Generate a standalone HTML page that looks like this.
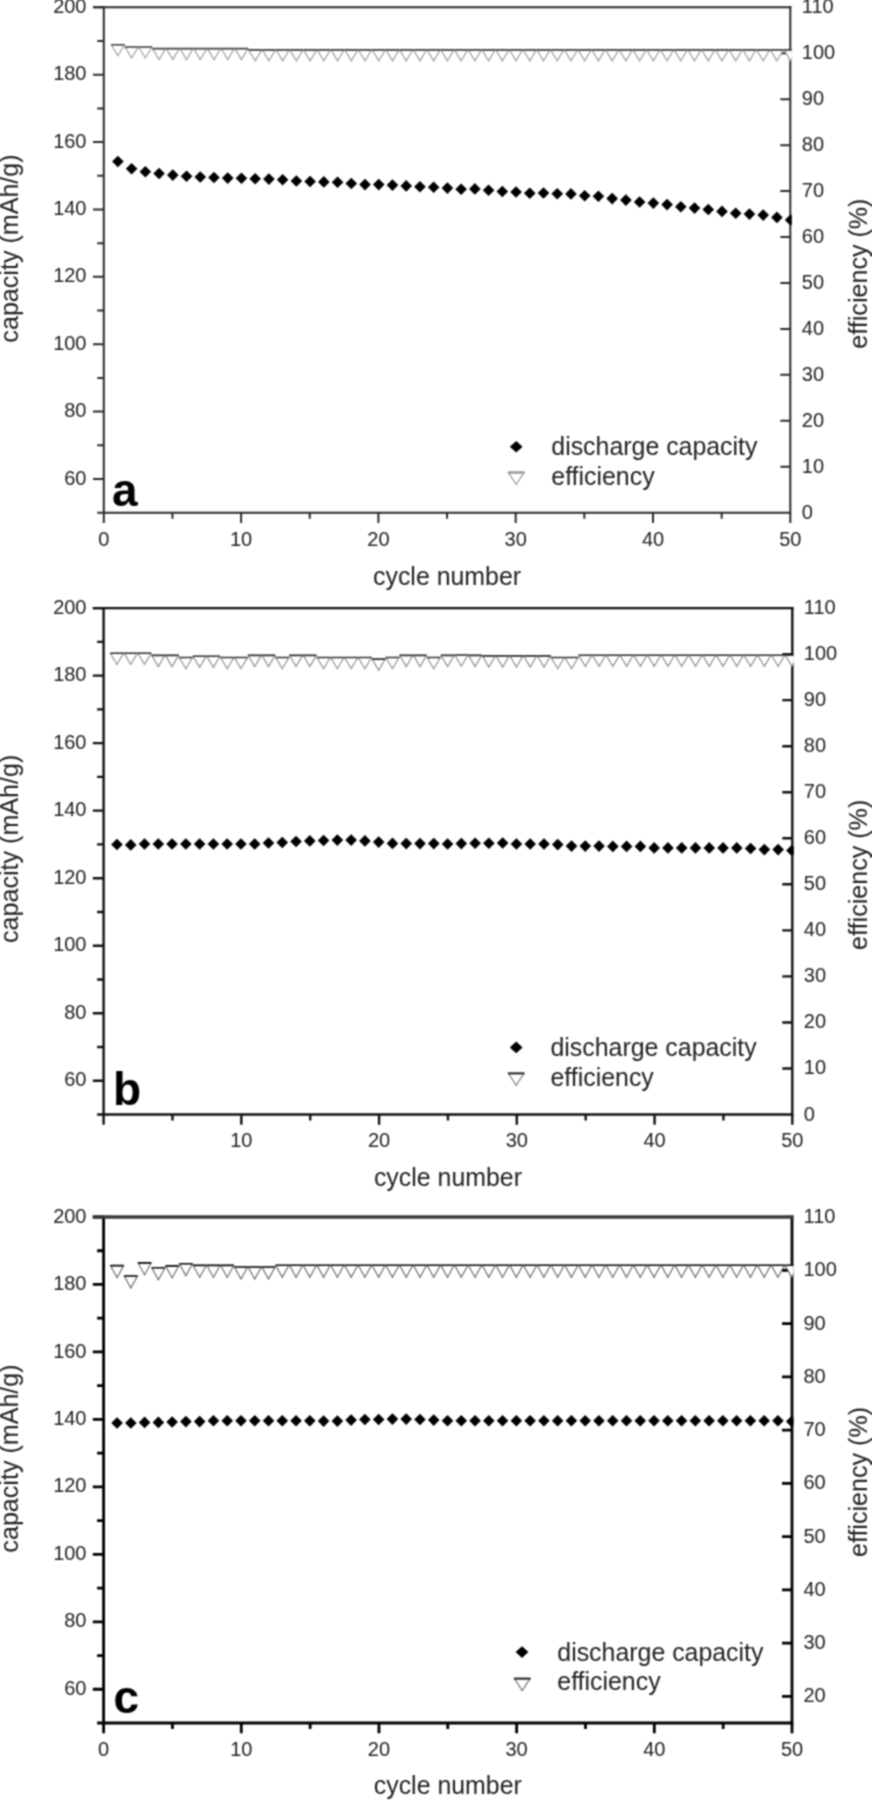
<!DOCTYPE html><html><head><meta charset="utf-8"><style>html,body{margin:0;padding:0;background:#fff;}svg{display:block;}</style></head><body>
<svg width="872" height="1800" viewBox="0 0 872 1800" font-family='"Liberation Sans", sans-serif'>
<rect width="872" height="1800" fill="#fff"/>
<defs><filter id="bl" x="0" y="0" width="1" height="1" color-interpolation-filters="sRGB"><feConvolveMatrix order="3" kernelMatrix="1 2 1 2 4 2 1 2 1" edgeMode="duplicate"/></filter>
<clipPath id="clipa"><rect x="103.8" y="7.3" width="688" height="505.4"/></clipPath>
<clipPath id="clipb"><rect x="103.6" y="608.1" width="690.2" height="506.4"/></clipPath>
<clipPath id="clipc"><rect x="103.6" y="1217" width="689.9" height="506"/></clipPath>
</defs>
<g filter="url(#bl)"><rect width="872" height="1800" fill="#fff"/>
<g><path d="M97.3 512.7H103.8M93 479.01H103.8M97.3 445.31H103.8M93 411.62H103.8M97.3 377.93H103.8M93 344.23H103.8M97.3 310.54H103.8M93 276.85H103.8M97.3 243.15H103.8M93 209.46H103.8M97.3 175.77H103.8M93 142.07H103.8M97.3 108.38H103.8M93 74.69H103.8M97.3 40.99H103.8M93 7.3H103.8M103.8 512.7V523M172.45 512.7V518.7M241.1 512.7V523M309.75 512.7V518.7M378.4 512.7V523M447.05 512.7V518.7M515.7 512.7V523M584.35 512.7V518.7M653 512.7V523M721.65 512.7V518.7M790.3 512.7V523M780.3 466.75H790.3M780.3 420.81H790.3M780.3 374.86H790.3M780.3 328.92H790.3M780.3 282.97H790.3M780.3 237.03H790.3M780.3 191.08H790.3M780.3 145.14H790.3M780.3 99.19H790.3M780.3 53.25H790.3" stroke="#2a2a2a" stroke-width="2" fill="none"/><path d="M103.8 6.3V512.7H790.3V6.3" stroke="#2a2a2a" stroke-width="2" fill="none" stroke-linejoin="miter"/><path d="M93 7.3H791.3" stroke="#2a2a2a" stroke-width="2" fill="none"/><g clip-path="url(#clipa)"><path d="M111.28 44.7L124.48 44.7L117.88 55.7Z" fill="#fff" stroke="#9a9a9a" stroke-width="1.1"/><path d="M125.01 47L138.21 47L131.61 58Z" fill="#fff" stroke="#9a9a9a" stroke-width="1.1"/><path d="M138.74 47L151.94 47L145.34 58Z" fill="#fff" stroke="#9a9a9a" stroke-width="1.1"/><path d="M152.47 48.6L165.67 48.6L159.07 59.6Z" fill="#fff" stroke="#9a9a9a" stroke-width="1.1"/><path d="M166.2 48.6L179.4 48.6L172.8 59.6Z" fill="#fff" stroke="#9a9a9a" stroke-width="1.1"/><path d="M179.93 48.6L193.13 48.6L186.53 59.6Z" fill="#fff" stroke="#9a9a9a" stroke-width="1.1"/><path d="M193.66 48.6L206.86 48.6L200.26 59.6Z" fill="#fff" stroke="#9a9a9a" stroke-width="1.1"/><path d="M207.39 48.6L220.59 48.6L213.99 59.6Z" fill="#fff" stroke="#9a9a9a" stroke-width="1.1"/><path d="M221.12 48.6L234.32 48.6L227.72 59.6Z" fill="#fff" stroke="#9a9a9a" stroke-width="1.1"/><path d="M234.85 48.6L248.05 48.6L241.45 59.6Z" fill="#fff" stroke="#9a9a9a" stroke-width="1.1"/><path d="M248.58 49.9L261.78 49.9L255.18 60.9Z" fill="#fff" stroke="#9a9a9a" stroke-width="1.1"/><path d="M262.31 49.9L275.51 49.9L268.91 60.9Z" fill="#fff" stroke="#9a9a9a" stroke-width="1.1"/><path d="M276.04 49.9L289.24 49.9L282.64 60.9Z" fill="#fff" stroke="#9a9a9a" stroke-width="1.1"/><path d="M289.77 49.9L302.97 49.9L296.37 60.9Z" fill="#fff" stroke="#9a9a9a" stroke-width="1.1"/><path d="M303.5 49.9L316.7 49.9L310.1 60.9Z" fill="#fff" stroke="#9a9a9a" stroke-width="1.1"/><path d="M317.23 49.9L330.43 49.9L323.83 60.9Z" fill="#fff" stroke="#9a9a9a" stroke-width="1.1"/><path d="M330.96 49.9L344.16 49.9L337.56 60.9Z" fill="#fff" stroke="#9a9a9a" stroke-width="1.1"/><path d="M344.69 49.9L357.89 49.9L351.29 60.9Z" fill="#fff" stroke="#9a9a9a" stroke-width="1.1"/><path d="M358.42 49.9L371.62 49.9L365.02 60.9Z" fill="#fff" stroke="#9a9a9a" stroke-width="1.1"/><path d="M372.15 49.9L385.35 49.9L378.75 60.9Z" fill="#fff" stroke="#9a9a9a" stroke-width="1.1"/><path d="M385.88 49.9L399.08 49.9L392.48 60.9Z" fill="#fff" stroke="#9a9a9a" stroke-width="1.1"/><path d="M399.61 49.9L412.81 49.9L406.21 60.9Z" fill="#fff" stroke="#9a9a9a" stroke-width="1.1"/><path d="M413.34 49.9L426.54 49.9L419.94 60.9Z" fill="#fff" stroke="#9a9a9a" stroke-width="1.1"/><path d="M427.07 49.9L440.27 49.9L433.67 60.9Z" fill="#fff" stroke="#9a9a9a" stroke-width="1.1"/><path d="M440.8 49.9L454 49.9L447.4 60.9Z" fill="#fff" stroke="#9a9a9a" stroke-width="1.1"/><path d="M454.53 49.9L467.73 49.9L461.13 60.9Z" fill="#fff" stroke="#9a9a9a" stroke-width="1.1"/><path d="M468.26 49.9L481.46 49.9L474.86 60.9Z" fill="#fff" stroke="#9a9a9a" stroke-width="1.1"/><path d="M481.99 49.9L495.19 49.9L488.59 60.9Z" fill="#fff" stroke="#9a9a9a" stroke-width="1.1"/><path d="M495.72 49.9L508.92 49.9L502.32 60.9Z" fill="#fff" stroke="#9a9a9a" stroke-width="1.1"/><path d="M509.45 49.9L522.65 49.9L516.05 60.9Z" fill="#fff" stroke="#9a9a9a" stroke-width="1.1"/><path d="M523.18 49.9L536.38 49.9L529.78 60.9Z" fill="#fff" stroke="#9a9a9a" stroke-width="1.1"/><path d="M536.91 49.9L550.11 49.9L543.51 60.9Z" fill="#fff" stroke="#9a9a9a" stroke-width="1.1"/><path d="M550.64 49.9L563.84 49.9L557.24 60.9Z" fill="#fff" stroke="#9a9a9a" stroke-width="1.1"/><path d="M564.37 49.9L577.57 49.9L570.97 60.9Z" fill="#fff" stroke="#9a9a9a" stroke-width="1.1"/><path d="M578.1 49.9L591.3 49.9L584.7 60.9Z" fill="#fff" stroke="#9a9a9a" stroke-width="1.1"/><path d="M591.83 49.9L605.03 49.9L598.43 60.9Z" fill="#fff" stroke="#9a9a9a" stroke-width="1.1"/><path d="M605.56 49.9L618.76 49.9L612.16 60.9Z" fill="#fff" stroke="#9a9a9a" stroke-width="1.1"/><path d="M619.29 49.9L632.49 49.9L625.89 60.9Z" fill="#fff" stroke="#9a9a9a" stroke-width="1.1"/><path d="M633.02 49.9L646.22 49.9L639.62 60.9Z" fill="#fff" stroke="#9a9a9a" stroke-width="1.1"/><path d="M646.75 49.9L659.95 49.9L653.35 60.9Z" fill="#fff" stroke="#9a9a9a" stroke-width="1.1"/><path d="M660.48 49.9L673.68 49.9L667.08 60.9Z" fill="#fff" stroke="#9a9a9a" stroke-width="1.1"/><path d="M674.21 49.9L687.41 49.9L680.81 60.9Z" fill="#fff" stroke="#9a9a9a" stroke-width="1.1"/><path d="M687.94 49.9L701.14 49.9L694.54 60.9Z" fill="#fff" stroke="#9a9a9a" stroke-width="1.1"/><path d="M701.67 49.9L714.87 49.9L708.27 60.9Z" fill="#fff" stroke="#9a9a9a" stroke-width="1.1"/><path d="M715.4 49.9L728.6 49.9L722 60.9Z" fill="#fff" stroke="#9a9a9a" stroke-width="1.1"/><path d="M729.13 49.9L742.33 49.9L735.73 60.9Z" fill="#fff" stroke="#9a9a9a" stroke-width="1.1"/><path d="M742.86 49.9L756.06 49.9L749.46 60.9Z" fill="#fff" stroke="#9a9a9a" stroke-width="1.1"/><path d="M756.59 49.9L769.79 49.9L763.19 60.9Z" fill="#fff" stroke="#9a9a9a" stroke-width="1.1"/><path d="M770.32 49.9L783.52 49.9L776.92 60.9Z" fill="#fff" stroke="#9a9a9a" stroke-width="1.1"/><path d="M784.05 49.9L797.25 49.9L790.65 60.9Z" fill="#fff" stroke="#9a9a9a" stroke-width="1.1"/><path d="M111.28 44.7H124.48M125.01 47H138.21M138.74 47H151.94M152.47 48.6H165.67M166.2 48.6H179.4M179.93 48.6H193.13M193.66 48.6H206.86M207.39 48.6H220.59M221.12 48.6H234.32M234.85 48.6H248.05M248.58 49.9H261.78M262.31 49.9H275.51M276.04 49.9H289.24M289.77 49.9H302.97M303.5 49.9H316.7M317.23 49.9H330.43M330.96 49.9H344.16M344.69 49.9H357.89M358.42 49.9H371.62M372.15 49.9H385.35M385.88 49.9H399.08M399.61 49.9H412.81M413.34 49.9H426.54M427.07 49.9H440.27M440.8 49.9H454M454.53 49.9H467.73M468.26 49.9H481.46M481.99 49.9H495.19M495.72 49.9H508.92M509.45 49.9H522.65M523.18 49.9H536.38M536.91 49.9H550.11M550.64 49.9H563.84M564.37 49.9H577.57M578.1 49.9H591.3M591.83 49.9H605.03M605.56 49.9H618.76M619.29 49.9H632.49M633.02 49.9H646.22M646.75 49.9H659.95M660.48 49.9H673.68M674.21 49.9H687.41M687.94 49.9H701.14M701.67 49.9H714.87M715.4 49.9H728.6M729.13 49.9H742.33M742.86 49.9H756.06M756.59 49.9H769.79M770.32 49.9H783.52M784.05 49.9H797.25" stroke="#444" stroke-width="1.6" fill="none"/><path d="M117.88 155.7L123.68 161.5L117.88 167.3L112.08 161.5ZM131.61 163L137.41 168.8L131.61 174.6L125.81 168.8ZM145.34 166L151.14 171.8L145.34 177.6L139.54 171.8ZM159.07 167.7L164.87 173.5L159.07 179.3L153.27 173.5ZM172.8 169.3L178.6 175.1L172.8 180.9L167 175.1ZM186.53 170.5L192.33 176.3L186.53 182.1L180.73 176.3ZM200.26 171.2L206.06 177L200.26 182.8L194.46 177ZM213.99 171.7L219.79 177.5L213.99 183.3L208.19 177.5ZM227.72 172.3L233.52 178.1L227.72 183.9L221.92 178.1ZM241.45 172.5L247.25 178.3L241.45 184.1L235.65 178.3ZM255.18 172.9L260.98 178.7L255.18 184.5L249.38 178.7ZM268.91 173.3L274.71 179.1L268.91 184.9L263.11 179.1ZM282.64 174L288.44 179.8L282.64 185.6L276.84 179.8ZM296.37 175.2L302.17 181L296.37 186.8L290.57 181ZM310.1 175.7L315.9 181.5L310.1 187.3L304.3 181.5ZM323.83 176.1L329.63 181.9L323.83 187.7L318.03 181.9ZM337.56 176.5L343.36 182.3L337.56 188.1L331.76 182.3ZM351.29 177.7L357.09 183.5L351.29 189.3L345.49 183.5ZM365.02 178.8L370.82 184.6L365.02 190.4L359.22 184.6ZM378.75 178.8L384.55 184.6L378.75 190.4L372.95 184.6ZM392.48 179.3L398.28 185.1L392.48 190.9L386.68 185.1ZM406.21 180.1L412.01 185.9L406.21 191.7L400.41 185.9ZM419.94 180.9L425.74 186.7L419.94 192.5L414.14 186.7ZM433.67 181.4L439.47 187.2L433.67 193L427.87 187.2ZM447.4 182.3L453.2 188.1L447.4 193.9L441.6 188.1ZM461.13 183.5L466.93 189.3L461.13 195.1L455.33 189.3ZM474.86 183.1L480.66 188.9L474.86 194.7L469.06 188.9ZM488.59 184.5L494.39 190.3L488.59 196.1L482.79 190.3ZM502.32 185.7L508.12 191.5L502.32 197.3L496.52 191.5ZM516.05 186.2L521.85 192L516.05 197.8L510.25 192ZM529.78 187.4L535.58 193.2L529.78 199L523.98 193.2ZM543.51 187.2L549.31 193L543.51 198.8L537.71 193ZM557.24 188L563.04 193.8L557.24 199.6L551.44 193.8ZM570.97 188.1L576.77 193.9L570.97 199.7L565.17 193.9ZM584.7 189.9L590.5 195.7L584.7 201.5L578.9 195.7ZM598.43 190.5L604.23 196.3L598.43 202.1L592.63 196.3ZM612.16 192.8L617.96 198.6L612.16 204.4L606.36 198.6ZM625.89 194.3L631.69 200.1L625.89 205.9L620.09 200.1ZM639.62 196.2L645.42 202L639.62 207.8L633.82 202ZM653.35 197.3L659.15 203.1L653.35 208.9L647.55 203.1ZM667.08 198.8L672.88 204.6L667.08 210.4L661.28 204.6ZM680.81 200.9L686.61 206.7L680.81 212.5L675.01 206.7ZM694.54 202.3L700.34 208.1L694.54 213.9L688.74 208.1ZM708.27 203.7L714.07 209.5L708.27 215.3L702.47 209.5ZM722 205.6L727.8 211.4L722 217.2L716.2 211.4ZM735.73 207.5L741.53 213.3L735.73 219.1L729.93 213.3ZM749.46 208.3L755.26 214.1L749.46 219.9L743.66 214.1ZM763.19 209.3L768.99 215.1L763.19 220.9L757.39 215.1ZM776.92 211.6L782.72 217.4L776.92 223.2L771.12 217.4ZM790.65 214.2L796.45 220L790.65 225.8L784.85 220Z" fill="#000"/></g><g font-size="20" fill="#222"><text x="86.5" y="484.61" text-anchor="end">60</text><text x="86.5" y="417.22" text-anchor="end">80</text><text x="86.5" y="349.83" text-anchor="end">100</text><text x="86.5" y="282.45" text-anchor="end">120</text><text x="86.5" y="215.06" text-anchor="end">140</text><text x="86.5" y="147.67" text-anchor="end">160</text><text x="86.5" y="80.29" text-anchor="end">180</text><text x="86.5" y="12.9" text-anchor="end">200</text><text x="103.8" y="545.5" text-anchor="middle">0</text><text x="241.1" y="545.5" text-anchor="middle">10</text><text x="378.4" y="545.5" text-anchor="middle">20</text><text x="515.7" y="545.5" text-anchor="middle">30</text><text x="653" y="545.5" text-anchor="middle">40</text><text x="790.3" y="545.5" text-anchor="middle">50</text><text x="801.8" y="518.7">0</text><text x="801.8" y="472.75">10</text><text x="801.8" y="426.81">20</text><text x="801.8" y="380.86">30</text><text x="801.8" y="334.92">40</text><text x="801.8" y="288.97">50</text><text x="801.8" y="243.03">60</text><text x="801.8" y="197.08">70</text><text x="801.8" y="151.14">80</text><text x="801.8" y="105.19">90</text><text x="801.8" y="59.25">100</text><text x="801.8" y="13.3">110</text></g><text x="447.05" y="585.3" font-size="24.9" text-anchor="middle" fill="#222">cycle number</text><text transform="translate(18.3 248.5) rotate(-90)" font-size="25.1" text-anchor="middle" fill="#222">capacity (mAh/g)</text><text transform="translate(866.8 273.6) rotate(-90)" font-size="25.1" text-anchor="middle" fill="#222">efficiency (%)</text><text x="112" y="506" font-size="46" font-weight="bold" fill="#000">a</text><path d="M516.2 441L522.6 446.8L516.2 452.6L509.8 446.8Z" fill="#000"/><path d="M508.4 472.5L524 472.5L516.2 484.5Z" fill="#fff" stroke="#999" stroke-width="1.2"/><path d="M508 472.5H524.4" stroke="#999" stroke-width="2.5"/><text x="551.3" y="455.2" font-size="24.9" fill="#222">discharge capacity</text><text x="551.3" y="485.3" font-size="24.9" fill="#222">efficiency</text></g>
<g><path d="M97.1 1114.5H103.6M92.8 1080.74H103.6M97.1 1046.98H103.6M92.8 1013.22H103.6M97.1 979.46H103.6M92.8 945.7H103.6M97.1 911.94H103.6M92.8 878.18H103.6M97.1 844.42H103.6M92.8 810.66H103.6M97.1 776.9H103.6M92.8 743.14H103.6M97.1 709.38H103.6M92.8 675.62H103.6M97.1 641.86H103.6M92.8 608.1H103.6M103.6 1114.5V1124.8M172.47 1114.5V1120.5M241.34 1114.5V1124.8M310.21 1114.5V1120.5M379.08 1114.5V1124.8M447.95 1114.5V1120.5M516.82 1114.5V1124.8M585.69 1114.5V1120.5M654.56 1114.5V1124.8M723.43 1114.5V1120.5M792.3 1114.5V1124.8M782.3 1068.46H792.3M782.3 1022.43H792.3M782.3 976.39H792.3M782.3 930.35H792.3M782.3 884.32H792.3M782.3 838.28H792.3M782.3 792.25H792.3M782.3 746.21H792.3M782.3 700.17H792.3M782.3 654.14H792.3" stroke="#111" stroke-width="2.4" fill="none"/><path d="M103.6 606.9V1114.5H792.3V606.9" stroke="#111" stroke-width="2.4" fill="none" stroke-linejoin="miter"/><path d="M92.8 608.1H793.5" stroke="#111" stroke-width="2.4" fill="none"/><g clip-path="url(#clipb)"><path d="M110.37 653.3L123.57 653.3L116.97 664.5Z" fill="#fff" stroke="#8a8a8a" stroke-width="1.1"/><path d="M124.15 653.3L137.35 653.3L130.75 664.5Z" fill="#fff" stroke="#8a8a8a" stroke-width="1.1"/><path d="M137.92 653.3L151.12 653.3L144.52 664.5Z" fill="#fff" stroke="#8a8a8a" stroke-width="1.1"/><path d="M151.7 655.4L164.9 655.4L158.3 666.6Z" fill="#fff" stroke="#8a8a8a" stroke-width="1.1"/><path d="M165.47 655.4L178.67 655.4L172.07 666.6Z" fill="#fff" stroke="#8a8a8a" stroke-width="1.1"/><path d="M179.24 657.5L192.44 657.5L185.84 668.7Z" fill="#fff" stroke="#8a8a8a" stroke-width="1.1"/><path d="M193.02 656.2L206.22 656.2L199.62 667.4Z" fill="#fff" stroke="#8a8a8a" stroke-width="1.1"/><path d="M206.79 656.2L219.99 656.2L213.39 667.4Z" fill="#fff" stroke="#8a8a8a" stroke-width="1.1"/><path d="M220.57 657.5L233.77 657.5L227.17 668.7Z" fill="#fff" stroke="#8a8a8a" stroke-width="1.1"/><path d="M234.34 657.5L247.54 657.5L240.94 668.7Z" fill="#fff" stroke="#8a8a8a" stroke-width="1.1"/><path d="M248.11 655.4L261.31 655.4L254.71 666.6Z" fill="#fff" stroke="#8a8a8a" stroke-width="1.1"/><path d="M261.89 655.4L275.09 655.4L268.49 666.6Z" fill="#fff" stroke="#8a8a8a" stroke-width="1.1"/><path d="M275.66 657.5L288.86 657.5L282.26 668.7Z" fill="#fff" stroke="#8a8a8a" stroke-width="1.1"/><path d="M289.44 655.4L302.64 655.4L296.04 666.6Z" fill="#fff" stroke="#8a8a8a" stroke-width="1.1"/><path d="M303.21 655.4L316.41 655.4L309.81 666.6Z" fill="#fff" stroke="#8a8a8a" stroke-width="1.1"/><path d="M316.98 657.5L330.18 657.5L323.58 668.7Z" fill="#fff" stroke="#8a8a8a" stroke-width="1.1"/><path d="M330.76 657.5L343.96 657.5L337.36 668.7Z" fill="#fff" stroke="#8a8a8a" stroke-width="1.1"/><path d="M344.53 657.5L357.73 657.5L351.13 668.7Z" fill="#fff" stroke="#8a8a8a" stroke-width="1.1"/><path d="M358.31 657.5L371.51 657.5L364.91 668.7Z" fill="#fff" stroke="#8a8a8a" stroke-width="1.1"/><path d="M372.08 659.1L385.28 659.1L378.68 670.3Z" fill="#fff" stroke="#8a8a8a" stroke-width="1.1"/><path d="M385.85 657.5L399.05 657.5L392.45 668.7Z" fill="#fff" stroke="#8a8a8a" stroke-width="1.1"/><path d="M399.63 655.4L412.83 655.4L406.23 666.6Z" fill="#fff" stroke="#8a8a8a" stroke-width="1.1"/><path d="M413.4 655.4L426.6 655.4L420 666.6Z" fill="#fff" stroke="#8a8a8a" stroke-width="1.1"/><path d="M427.18 657.5L440.38 657.5L433.78 668.7Z" fill="#fff" stroke="#8a8a8a" stroke-width="1.1"/><path d="M440.95 655.4L454.15 655.4L447.55 666.6Z" fill="#fff" stroke="#8a8a8a" stroke-width="1.1"/><path d="M454.72 655L467.92 655L461.32 666.2Z" fill="#fff" stroke="#8a8a8a" stroke-width="1.1"/><path d="M468.5 655.4L481.7 655.4L475.1 666.6Z" fill="#fff" stroke="#8a8a8a" stroke-width="1.1"/><path d="M482.27 655.9L495.47 655.9L488.87 667.1Z" fill="#fff" stroke="#8a8a8a" stroke-width="1.1"/><path d="M496.05 655.9L509.25 655.9L502.65 667.1Z" fill="#fff" stroke="#8a8a8a" stroke-width="1.1"/><path d="M509.82 655.9L523.02 655.9L516.42 667.1Z" fill="#fff" stroke="#8a8a8a" stroke-width="1.1"/><path d="M523.59 655.9L536.79 655.9L530.19 667.1Z" fill="#fff" stroke="#8a8a8a" stroke-width="1.1"/><path d="M537.37 655.9L550.57 655.9L543.97 667.1Z" fill="#fff" stroke="#8a8a8a" stroke-width="1.1"/><path d="M551.14 657.5L564.34 657.5L557.74 668.7Z" fill="#fff" stroke="#8a8a8a" stroke-width="1.1"/><path d="M564.92 657.5L578.12 657.5L571.52 668.7Z" fill="#fff" stroke="#8a8a8a" stroke-width="1.1"/><path d="M578.69 655.2L591.89 655.2L585.29 666.4Z" fill="#fff" stroke="#8a8a8a" stroke-width="1.1"/><path d="M592.46 655.2L605.66 655.2L599.06 666.4Z" fill="#fff" stroke="#8a8a8a" stroke-width="1.1"/><path d="M606.24 655.2L619.44 655.2L612.84 666.4Z" fill="#fff" stroke="#8a8a8a" stroke-width="1.1"/><path d="M620.01 655.2L633.21 655.2L626.61 666.4Z" fill="#fff" stroke="#8a8a8a" stroke-width="1.1"/><path d="M633.79 655.2L646.99 655.2L640.39 666.4Z" fill="#fff" stroke="#8a8a8a" stroke-width="1.1"/><path d="M647.56 655.2L660.76 655.2L654.16 666.4Z" fill="#fff" stroke="#8a8a8a" stroke-width="1.1"/><path d="M661.33 655.2L674.53 655.2L667.93 666.4Z" fill="#fff" stroke="#8a8a8a" stroke-width="1.1"/><path d="M675.11 655.2L688.31 655.2L681.71 666.4Z" fill="#fff" stroke="#8a8a8a" stroke-width="1.1"/><path d="M688.88 655.2L702.08 655.2L695.48 666.4Z" fill="#fff" stroke="#8a8a8a" stroke-width="1.1"/><path d="M702.66 655.2L715.86 655.2L709.26 666.4Z" fill="#fff" stroke="#8a8a8a" stroke-width="1.1"/><path d="M716.43 655.2L729.63 655.2L723.03 666.4Z" fill="#fff" stroke="#8a8a8a" stroke-width="1.1"/><path d="M730.2 655.2L743.4 655.2L736.8 666.4Z" fill="#fff" stroke="#8a8a8a" stroke-width="1.1"/><path d="M743.98 655.2L757.18 655.2L750.58 666.4Z" fill="#fff" stroke="#8a8a8a" stroke-width="1.1"/><path d="M757.75 655.2L770.95 655.2L764.35 666.4Z" fill="#fff" stroke="#8a8a8a" stroke-width="1.1"/><path d="M771.53 655.2L784.73 655.2L778.13 666.4Z" fill="#fff" stroke="#8a8a8a" stroke-width="1.1"/><path d="M785.3 655.2L798.5 655.2L791.9 666.4Z" fill="#fff" stroke="#8a8a8a" stroke-width="1.1"/><path d="M110.37 653.3H123.57M124.15 653.3H137.35M137.92 653.3H151.12M151.7 655.4H164.9M165.47 655.4H178.67M179.24 657.5H192.44M193.02 656.2H206.22M206.79 656.2H219.99M220.57 657.5H233.77M234.34 657.5H247.54M248.11 655.4H261.31M261.89 655.4H275.09M275.66 657.5H288.86M289.44 655.4H302.64M303.21 655.4H316.41M316.98 657.5H330.18M330.76 657.5H343.96M344.53 657.5H357.73M358.31 657.5H371.51M372.08 659.1H385.28M385.85 657.5H399.05M399.63 655.4H412.83M413.4 655.4H426.6M427.18 657.5H440.38M440.95 655.4H454.15M454.72 655H467.92M468.5 655.4H481.7M482.27 655.9H495.47M496.05 655.9H509.25M509.82 655.9H523.02M523.59 655.9H536.79M537.37 655.9H550.57M551.14 657.5H564.34M564.92 657.5H578.12M578.69 655.2H591.89M592.46 655.2H605.66M606.24 655.2H619.44M620.01 655.2H633.21M633.79 655.2H646.99M647.56 655.2H660.76M661.33 655.2H674.53M675.11 655.2H688.31M688.88 655.2H702.08M702.66 655.2H715.86M716.43 655.2H729.63M730.2 655.2H743.4M743.98 655.2H757.18M757.75 655.2H770.95M771.53 655.2H784.73M785.3 655.2H798.5" stroke="#333" stroke-width="1.6" fill="none"/><path d="M116.97 838.7L122.77 844.5L116.97 850.3L111.17 844.5ZM130.75 839.1L136.55 844.9L130.75 850.7L124.95 844.9ZM144.52 838.2L150.32 844L144.52 849.8L138.72 844ZM158.3 838.2L164.1 844L158.3 849.8L152.5 844ZM172.07 838.2L177.87 844L172.07 849.8L166.27 844ZM185.84 838.2L191.64 844L185.84 849.8L180.04 844ZM199.62 838.2L205.42 844L199.62 849.8L193.82 844ZM213.39 838.2L219.19 844L213.39 849.8L207.59 844ZM227.17 838.2L232.97 844L227.17 849.8L221.37 844ZM240.94 838.2L246.74 844L240.94 849.8L235.14 844ZM254.71 838.2L260.51 844L254.71 849.8L248.91 844ZM268.49 837.2L274.29 843L268.49 848.8L262.69 843ZM282.26 836.7L288.06 842.5L282.26 848.3L276.46 842.5ZM296.04 835.7L301.84 841.5L296.04 847.3L290.24 841.5ZM309.81 835.1L315.61 840.9L309.81 846.7L304.01 840.9ZM323.58 834.7L329.38 840.5L323.58 846.3L317.78 840.5ZM337.36 834.3L343.16 840.1L337.36 845.9L331.56 840.1ZM351.13 834.3L356.93 840.1L351.13 845.9L345.33 840.1ZM364.91 835.1L370.71 840.9L364.91 846.7L359.11 840.9ZM378.68 836.3L384.48 842.1L378.68 847.9L372.88 842.1ZM392.45 837.6L398.25 843.4L392.45 849.2L386.65 843.4ZM406.23 837.8L412.03 843.6L406.23 849.4L400.43 843.6ZM420 837.8L425.8 843.6L420 849.4L414.2 843.6ZM433.78 837.8L439.58 843.6L433.78 849.4L427.98 843.6ZM447.55 838.2L453.35 844L447.55 849.8L441.75 844ZM461.32 837.8L467.12 843.6L461.32 849.4L455.52 843.6ZM475.1 837.4L480.9 843.2L475.1 849L469.3 843.2ZM488.87 837.4L494.67 843.2L488.87 849L483.07 843.2ZM502.65 837.2L508.45 843L502.65 848.8L496.85 843ZM516.42 838.2L522.22 844L516.42 849.8L510.62 844ZM530.19 838.2L535.99 844L530.19 849.8L524.39 844ZM543.97 838.2L549.77 844L543.97 849.8L538.17 844ZM557.74 838.8L563.54 844.6L557.74 850.4L551.94 844.6ZM571.52 840.3L577.32 846.1L571.52 851.9L565.72 846.1ZM585.29 840.3L591.09 846.1L585.29 851.9L579.49 846.1ZM599.06 840.3L604.86 846.1L599.06 851.9L593.26 846.1ZM612.84 840.6L618.64 846.4L612.84 852.2L607.04 846.4ZM626.61 840.6L632.41 846.4L626.61 852.2L620.81 846.4ZM640.39 840.6L646.19 846.4L640.39 852.2L634.59 846.4ZM654.16 842.1L659.96 847.9L654.16 853.7L648.36 847.9ZM667.93 842.1L673.73 847.9L667.93 853.7L662.13 847.9ZM681.71 842.1L687.51 847.9L681.71 853.7L675.91 847.9ZM695.48 842.1L701.28 847.9L695.48 853.7L689.68 847.9ZM709.26 842.1L715.06 847.9L709.26 853.7L703.46 847.9ZM723.03 842.1L728.83 847.9L723.03 853.7L717.23 847.9ZM736.8 842.1L742.6 847.9L736.8 853.7L731 847.9ZM750.58 842.7L756.38 848.5L750.58 854.3L744.78 848.5ZM764.35 843.8L770.15 849.6L764.35 855.4L758.55 849.6ZM778.13 843.8L783.93 849.6L778.13 855.4L772.33 849.6ZM791.9 844.7L797.7 850.5L791.9 856.3L786.1 850.5Z" fill="#000"/></g><g font-size="20" fill="#222"><text x="86.5" y="1086.34" text-anchor="end">60</text><text x="86.5" y="1018.82" text-anchor="end">80</text><text x="86.5" y="951.3" text-anchor="end">100</text><text x="86.5" y="883.78" text-anchor="end">120</text><text x="86.5" y="816.26" text-anchor="end">140</text><text x="86.5" y="748.74" text-anchor="end">160</text><text x="86.5" y="681.22" text-anchor="end">180</text><text x="86.5" y="613.7" text-anchor="end">200</text><text x="241.34" y="1147" text-anchor="middle">10</text><text x="379.08" y="1147" text-anchor="middle">20</text><text x="516.82" y="1147" text-anchor="middle">30</text><text x="654.56" y="1147" text-anchor="middle">40</text><text x="792.3" y="1147" text-anchor="middle">50</text><text x="803.8" y="1120.5">0</text><text x="803.8" y="1074.46">10</text><text x="803.8" y="1028.43">20</text><text x="803.8" y="982.39">30</text><text x="803.8" y="936.35">40</text><text x="803.8" y="890.32">50</text><text x="803.8" y="844.28">60</text><text x="803.8" y="798.25">70</text><text x="803.8" y="752.21">80</text><text x="803.8" y="706.17">90</text><text x="803.8" y="660.14">100</text><text x="803.8" y="614.1">110</text></g><text x="447.95" y="1186" font-size="24.9" text-anchor="middle" fill="#222">cycle number</text><text transform="translate(18.3 848.8) rotate(-90)" font-size="25.1" text-anchor="middle" fill="#222">capacity (mAh/g)</text><text transform="translate(866.8 874.8) rotate(-90)" font-size="25.1" text-anchor="middle" fill="#222">efficiency (%)</text><text x="113" y="1105" font-size="46" font-weight="bold" fill="#000">b</text><path d="M516.2 1041.6L522.6 1047.4L516.2 1053.2L509.8 1047.4Z" fill="#000"/><path d="M508.4 1073.4L524 1073.4L516.2 1085.4Z" fill="#fff" stroke="#8a8a8a" stroke-width="1.2"/><path d="M508 1073.4H524.4" stroke="#222" stroke-width="2"/><text x="550.5" y="1056" font-size="24.9" fill="#222">discharge capacity</text><text x="550.5" y="1085.8" font-size="24.9" fill="#222">efficiency</text></g>
<g><path d="M97.1 1723H103.6M92.8 1689.27H103.6M97.1 1655.53H103.6M92.8 1621.8H103.6M97.1 1588.07H103.6M92.8 1554.33H103.6M97.1 1520.6H103.6M92.8 1486.87H103.6M97.1 1453.13H103.6M92.8 1419.4H103.6M97.1 1385.67H103.6M92.8 1351.93H103.6M97.1 1318.2H103.6M92.8 1284.47H103.6M97.1 1250.73H103.6M92.8 1217H103.6M103.6 1723V1733.3M172.44 1723V1729M241.28 1723V1733.3M310.12 1723V1729M378.96 1723V1733.3M447.8 1723V1729M516.64 1723V1733.3M585.48 1723V1729M654.32 1723V1733.3M723.16 1723V1729M792 1723V1733.3M782 1696.37H792M782 1643.11H792M782 1589.84H792M782 1536.58H792M782 1483.32H792M782 1430.05H792M782 1376.79H792M782 1323.53H792M782 1270.26H792" stroke="#000" stroke-width="2.8" fill="none"/><path d="M103.6 1215.6V1723H792V1215.6" stroke="#000" stroke-width="2.8" fill="none" stroke-linejoin="miter"/><path d="M92.8 1217H793.4" stroke="#3a3a3a" stroke-width="3.6" fill="none"/><g clip-path="url(#clipc)"><path d="M110.47 1265.6L123.67 1265.6L117.07 1277.6Z" fill="#fff" stroke="#666" stroke-width="1.1"/><path d="M124.24 1276L137.44 1276L130.84 1288Z" fill="#fff" stroke="#666" stroke-width="1.1"/><path d="M138 1262.9L151.2 1262.9L144.6 1274.9Z" fill="#fff" stroke="#666" stroke-width="1.1"/><path d="M151.77 1267.8L164.97 1267.8L158.37 1279.8Z" fill="#fff" stroke="#666" stroke-width="1.1"/><path d="M165.54 1265.9L178.74 1265.9L172.14 1277.9Z" fill="#fff" stroke="#666" stroke-width="1.1"/><path d="M179.31 1263.8L192.51 1263.8L185.91 1275.8Z" fill="#fff" stroke="#666" stroke-width="1.1"/><path d="M193.08 1265.4L206.28 1265.4L199.68 1277.4Z" fill="#fff" stroke="#666" stroke-width="1.1"/><path d="M206.84 1265.4L220.04 1265.4L213.44 1277.4Z" fill="#fff" stroke="#666" stroke-width="1.1"/><path d="M220.61 1265.4L233.81 1265.4L227.21 1277.4Z" fill="#fff" stroke="#666" stroke-width="1.1"/><path d="M234.38 1267L247.58 1267L240.98 1279Z" fill="#fff" stroke="#666" stroke-width="1.1"/><path d="M248.15 1267L261.35 1267L254.75 1279Z" fill="#fff" stroke="#666" stroke-width="1.1"/><path d="M261.92 1267L275.12 1267L268.52 1279Z" fill="#fff" stroke="#666" stroke-width="1.1"/><path d="M275.68 1265.3L288.88 1265.3L282.28 1277.3Z" fill="#fff" stroke="#666" stroke-width="1.1"/><path d="M289.45 1265.3L302.65 1265.3L296.05 1277.3Z" fill="#fff" stroke="#666" stroke-width="1.1"/><path d="M303.22 1265.3L316.42 1265.3L309.82 1277.3Z" fill="#fff" stroke="#666" stroke-width="1.1"/><path d="M316.99 1265.3L330.19 1265.3L323.59 1277.3Z" fill="#fff" stroke="#666" stroke-width="1.1"/><path d="M330.76 1265.3L343.96 1265.3L337.36 1277.3Z" fill="#fff" stroke="#666" stroke-width="1.1"/><path d="M344.52 1265.3L357.72 1265.3L351.12 1277.3Z" fill="#fff" stroke="#666" stroke-width="1.1"/><path d="M358.29 1265.3L371.49 1265.3L364.89 1277.3Z" fill="#fff" stroke="#666" stroke-width="1.1"/><path d="M372.06 1265.3L385.26 1265.3L378.66 1277.3Z" fill="#fff" stroke="#666" stroke-width="1.1"/><path d="M385.83 1265.3L399.03 1265.3L392.43 1277.3Z" fill="#fff" stroke="#666" stroke-width="1.1"/><path d="M399.6 1265.3L412.8 1265.3L406.2 1277.3Z" fill="#fff" stroke="#666" stroke-width="1.1"/><path d="M413.36 1265.3L426.56 1265.3L419.96 1277.3Z" fill="#fff" stroke="#666" stroke-width="1.1"/><path d="M427.13 1265.3L440.33 1265.3L433.73 1277.3Z" fill="#fff" stroke="#666" stroke-width="1.1"/><path d="M440.9 1265.3L454.1 1265.3L447.5 1277.3Z" fill="#fff" stroke="#666" stroke-width="1.1"/><path d="M454.67 1265.3L467.87 1265.3L461.27 1277.3Z" fill="#fff" stroke="#666" stroke-width="1.1"/><path d="M468.44 1265.3L481.64 1265.3L475.04 1277.3Z" fill="#fff" stroke="#666" stroke-width="1.1"/><path d="M482.2 1265.3L495.4 1265.3L488.8 1277.3Z" fill="#fff" stroke="#666" stroke-width="1.1"/><path d="M495.97 1265.3L509.17 1265.3L502.57 1277.3Z" fill="#fff" stroke="#666" stroke-width="1.1"/><path d="M509.74 1265.3L522.94 1265.3L516.34 1277.3Z" fill="#fff" stroke="#666" stroke-width="1.1"/><path d="M523.51 1265.3L536.71 1265.3L530.11 1277.3Z" fill="#fff" stroke="#666" stroke-width="1.1"/><path d="M537.28 1265.3L550.48 1265.3L543.88 1277.3Z" fill="#fff" stroke="#666" stroke-width="1.1"/><path d="M551.04 1265.3L564.24 1265.3L557.64 1277.3Z" fill="#fff" stroke="#666" stroke-width="1.1"/><path d="M564.81 1265.3L578.01 1265.3L571.41 1277.3Z" fill="#fff" stroke="#666" stroke-width="1.1"/><path d="M578.58 1265.3L591.78 1265.3L585.18 1277.3Z" fill="#fff" stroke="#666" stroke-width="1.1"/><path d="M592.35 1265.3L605.55 1265.3L598.95 1277.3Z" fill="#fff" stroke="#666" stroke-width="1.1"/><path d="M606.12 1265.3L619.32 1265.3L612.72 1277.3Z" fill="#fff" stroke="#666" stroke-width="1.1"/><path d="M619.88 1265.3L633.08 1265.3L626.48 1277.3Z" fill="#fff" stroke="#666" stroke-width="1.1"/><path d="M633.65 1265.3L646.85 1265.3L640.25 1277.3Z" fill="#fff" stroke="#666" stroke-width="1.1"/><path d="M647.42 1265.3L660.62 1265.3L654.02 1277.3Z" fill="#fff" stroke="#666" stroke-width="1.1"/><path d="M661.19 1265.3L674.39 1265.3L667.79 1277.3Z" fill="#fff" stroke="#666" stroke-width="1.1"/><path d="M674.96 1265.3L688.16 1265.3L681.56 1277.3Z" fill="#fff" stroke="#666" stroke-width="1.1"/><path d="M688.72 1265.3L701.92 1265.3L695.32 1277.3Z" fill="#fff" stroke="#666" stroke-width="1.1"/><path d="M702.49 1265.3L715.69 1265.3L709.09 1277.3Z" fill="#fff" stroke="#666" stroke-width="1.1"/><path d="M716.26 1265.3L729.46 1265.3L722.86 1277.3Z" fill="#fff" stroke="#666" stroke-width="1.1"/><path d="M730.03 1265.3L743.23 1265.3L736.63 1277.3Z" fill="#fff" stroke="#666" stroke-width="1.1"/><path d="M743.8 1265.3L757 1265.3L750.4 1277.3Z" fill="#fff" stroke="#666" stroke-width="1.1"/><path d="M757.56 1265.3L770.76 1265.3L764.16 1277.3Z" fill="#fff" stroke="#666" stroke-width="1.1"/><path d="M771.33 1265.3L784.53 1265.3L777.93 1277.3Z" fill="#fff" stroke="#666" stroke-width="1.1"/><path d="M785.1 1265.3L798.3 1265.3L791.7 1277.3Z" fill="#fff" stroke="#666" stroke-width="1.1"/><path d="M110.47 1265.6H123.67M124.24 1276H137.44M138 1262.9H151.2M151.77 1267.8H164.97M165.54 1265.9H178.74M179.31 1263.8H192.51M193.08 1265.4H206.28M206.84 1265.4H220.04M220.61 1265.4H233.81M234.38 1267H247.58M248.15 1267H261.35M261.92 1267H275.12M275.68 1265.3H288.88M289.45 1265.3H302.65M303.22 1265.3H316.42M316.99 1265.3H330.19M330.76 1265.3H343.96M344.52 1265.3H357.72M358.29 1265.3H371.49M372.06 1265.3H385.26M385.83 1265.3H399.03M399.6 1265.3H412.8M413.36 1265.3H426.56M427.13 1265.3H440.33M440.9 1265.3H454.1M454.67 1265.3H467.87M468.44 1265.3H481.64M482.2 1265.3H495.4M495.97 1265.3H509.17M509.74 1265.3H522.94M523.51 1265.3H536.71M537.28 1265.3H550.48M551.04 1265.3H564.24M564.81 1265.3H578.01M578.58 1265.3H591.78M592.35 1265.3H605.55M606.12 1265.3H619.32M619.88 1265.3H633.08M633.65 1265.3H646.85M647.42 1265.3H660.62M661.19 1265.3H674.39M674.96 1265.3H688.16M688.72 1265.3H701.92M702.49 1265.3H715.69M716.26 1265.3H729.46M730.03 1265.3H743.23M743.8 1265.3H757M757.56 1265.3H770.76M771.33 1265.3H784.53M785.1 1265.3H798.3" stroke="#111" stroke-width="1.6" fill="none"/><path d="M117.07 1417.2L122.87 1423L117.07 1428.8L111.27 1423ZM130.84 1417.2L136.64 1423L130.84 1428.8L125.04 1423ZM144.6 1416.6L150.4 1422.4L144.6 1428.2L138.8 1422.4ZM158.37 1416.6L164.17 1422.4L158.37 1428.2L152.57 1422.4ZM172.14 1416.2L177.94 1422L172.14 1427.8L166.34 1422ZM185.91 1415.8L191.71 1421.6L185.91 1427.4L180.11 1421.6ZM199.68 1415.8L205.48 1421.6L199.68 1427.4L193.88 1421.6ZM213.44 1415L219.24 1420.8L213.44 1426.6L207.64 1420.8ZM227.21 1415L233.01 1420.8L227.21 1426.6L221.41 1420.8ZM240.98 1415L246.78 1420.8L240.98 1426.6L235.18 1420.8ZM254.75 1415L260.55 1420.8L254.75 1426.6L248.95 1420.8ZM268.52 1415L274.32 1420.8L268.52 1426.6L262.72 1420.8ZM282.28 1415L288.08 1420.8L282.28 1426.6L276.48 1420.8ZM296.05 1415L301.85 1420.8L296.05 1426.6L290.25 1420.8ZM309.82 1415L315.62 1420.8L309.82 1426.6L304.02 1420.8ZM323.59 1415.3L329.39 1421.1L323.59 1426.9L317.79 1421.1ZM337.36 1415.3L343.16 1421.1L337.36 1426.9L331.56 1421.1ZM351.12 1414.3L356.92 1420.1L351.12 1425.9L345.32 1420.1ZM364.89 1413.7L370.69 1419.5L364.89 1425.3L359.09 1419.5ZM378.66 1413.7L384.46 1419.5L378.66 1425.3L372.86 1419.5ZM392.43 1413.3L398.23 1419.1L392.43 1424.9L386.63 1419.1ZM406.2 1413.3L412 1419.1L406.2 1424.9L400.4 1419.1ZM419.96 1413.7L425.76 1419.5L419.96 1425.3L414.16 1419.5ZM433.73 1414.3L439.53 1420.1L433.73 1425.9L427.93 1420.1ZM447.5 1415L453.3 1420.8L447.5 1426.6L441.7 1420.8ZM461.27 1415L467.07 1420.8L461.27 1426.6L455.47 1420.8ZM475.04 1415L480.84 1420.8L475.04 1426.6L469.24 1420.8ZM488.8 1415L494.6 1420.8L488.8 1426.6L483 1420.8ZM502.57 1415L508.37 1420.8L502.57 1426.6L496.77 1420.8ZM516.34 1415L522.14 1420.8L516.34 1426.6L510.54 1420.8ZM530.11 1415L535.91 1420.8L530.11 1426.6L524.31 1420.8ZM543.88 1415L549.68 1420.8L543.88 1426.6L538.08 1420.8ZM557.64 1415L563.44 1420.8L557.64 1426.6L551.84 1420.8ZM571.41 1415L577.21 1420.8L571.41 1426.6L565.61 1420.8ZM585.18 1415L590.98 1420.8L585.18 1426.6L579.38 1420.8ZM598.95 1415L604.75 1420.8L598.95 1426.6L593.15 1420.8ZM612.72 1415L618.52 1420.8L612.72 1426.6L606.92 1420.8ZM626.48 1415L632.28 1420.8L626.48 1426.6L620.68 1420.8ZM640.25 1415L646.05 1420.8L640.25 1426.6L634.45 1420.8ZM654.02 1415L659.82 1420.8L654.02 1426.6L648.22 1420.8ZM667.79 1415L673.59 1420.8L667.79 1426.6L661.99 1420.8ZM681.56 1415L687.36 1420.8L681.56 1426.6L675.76 1420.8ZM695.32 1415L701.12 1420.8L695.32 1426.6L689.52 1420.8ZM709.09 1415L714.89 1420.8L709.09 1426.6L703.29 1420.8ZM722.86 1415L728.66 1420.8L722.86 1426.6L717.06 1420.8ZM736.63 1415L742.43 1420.8L736.63 1426.6L730.83 1420.8ZM750.4 1415L756.2 1420.8L750.4 1426.6L744.6 1420.8ZM764.16 1415L769.96 1420.8L764.16 1426.6L758.36 1420.8ZM777.93 1415L783.73 1420.8L777.93 1426.6L772.13 1420.8ZM791.7 1415.7L797.5 1421.5L791.7 1427.3L785.9 1421.5Z" fill="#000"/></g><g font-size="20" fill="#222"><text x="86.5" y="1694.87" text-anchor="end">60</text><text x="86.5" y="1627.4" text-anchor="end">80</text><text x="86.5" y="1559.93" text-anchor="end">100</text><text x="86.5" y="1492.47" text-anchor="end">120</text><text x="86.5" y="1425" text-anchor="end">140</text><text x="86.5" y="1357.53" text-anchor="end">160</text><text x="86.5" y="1290.07" text-anchor="end">180</text><text x="86.5" y="1222.6" text-anchor="end">200</text><text x="103.6" y="1755.5" text-anchor="middle">0</text><text x="241.28" y="1755.5" text-anchor="middle">10</text><text x="378.96" y="1755.5" text-anchor="middle">20</text><text x="516.64" y="1755.5" text-anchor="middle">30</text><text x="654.32" y="1755.5" text-anchor="middle">40</text><text x="792" y="1755.5" text-anchor="middle">50</text><text x="803.5" y="1702.37">20</text><text x="803.5" y="1649.11">30</text><text x="803.5" y="1595.84">40</text><text x="803.5" y="1542.58">50</text><text x="803.5" y="1489.32">60</text><text x="803.5" y="1436.05">70</text><text x="803.5" y="1382.79">80</text><text x="803.5" y="1329.53">90</text><text x="803.5" y="1276.26">100</text><text x="803.5" y="1223">110</text></g><text x="447.8" y="1794.2" font-size="24.9" text-anchor="middle" fill="#222">cycle number</text><text transform="translate(18.3 1458.5) rotate(-90)" font-size="25.1" text-anchor="middle" fill="#222">capacity (mAh/g)</text><text transform="translate(866.8 1482) rotate(-90)" font-size="25.1" text-anchor="middle" fill="#222">efficiency (%)</text><text x="113.5" y="1712.5" font-size="46" font-weight="bold" fill="#000">c</text><path d="M522 1646.3L528.4 1652.1L522 1657.9L515.6 1652.1Z" fill="#000"/><path d="M514.4 1678.6L530 1678.6L522.2 1690.6Z" fill="#fff" stroke="#777" stroke-width="1.2"/><path d="M514 1678.6H530.4" stroke="#222" stroke-width="2"/><text x="557.3" y="1661" font-size="24.9" fill="#222">discharge capacity</text><text x="557.3" y="1690.2" font-size="24.9" fill="#222">efficiency</text></g>
</g></svg></body></html>
